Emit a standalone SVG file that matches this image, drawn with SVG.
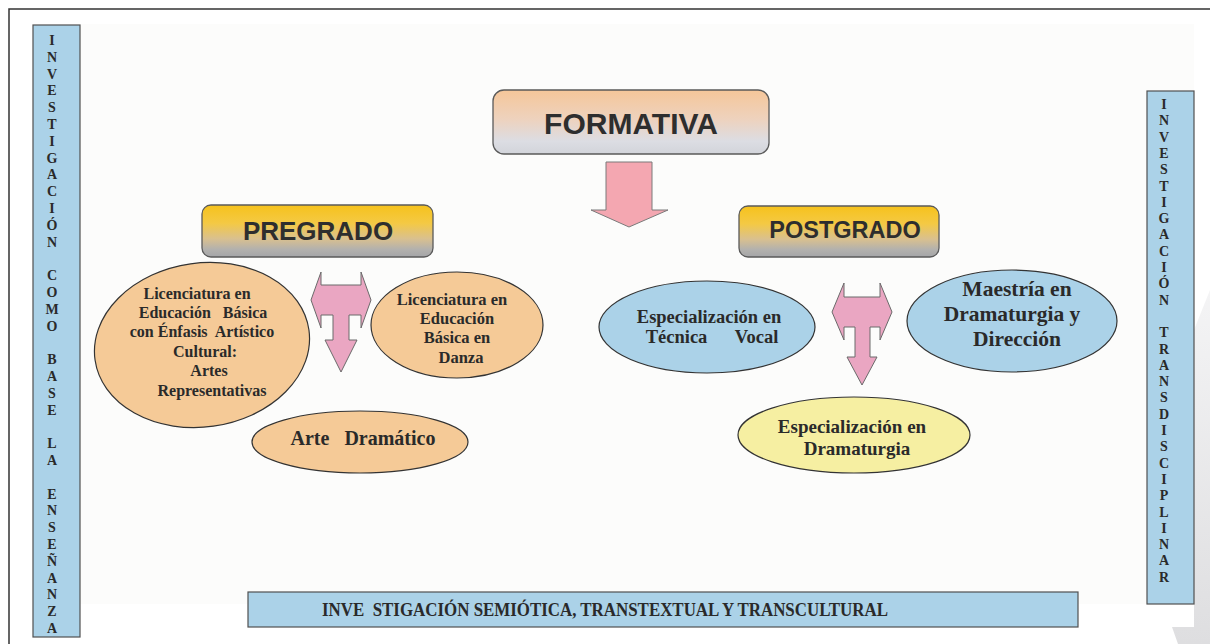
<svg xmlns="http://www.w3.org/2000/svg" width="1210" height="644" viewBox="0 0 1210 644">
  <defs>
    <linearGradient id="gForm" x1="0" y1="0" x2="0" y2="1">
      <stop offset="0" stop-color="#f5c699"/>
      <stop offset="0.45" stop-color="#eed2bd"/>
      <stop offset="0.8" stop-color="#dcdde3"/>
      <stop offset="1" stop-color="#d2d4da"/>
    </linearGradient>
    <linearGradient id="gGold" x1="0" y1="0" x2="0" y2="1">
      <stop offset="0" stop-color="#f6c21c"/>
      <stop offset="0.35" stop-color="#f4c944"/>
      <stop offset="0.65" stop-color="#d9c08f"/>
      <stop offset="0.85" stop-color="#b3b1ad"/>
      <stop offset="1" stop-color="#a4a5a8"/>
    </linearGradient>
    <linearGradient id="gPage" x1="0" y1="0" x2="0" y2="1">
      <stop offset="0" stop-color="#f4f4f5"/>
      <stop offset="1" stop-color="#dedee0"/>
    </linearGradient>
    <style>
      .frame{fill:none;stroke:#333;stroke-width:1.5}
      .bar{fill:#abd2e8;stroke:#505050;stroke-width:1.2}
      .vt{font-family:"Liberation Serif","Times New Roman",serif;font-weight:bold;font-size:14px;fill:#2a2a2a;text-anchor:middle}
      .box{stroke:#5a5a5a;stroke-width:1.3}
      .boxt{font-family:"Liberation Sans",Arial,sans-serif;font-weight:bold;fill:#2e2e2e;text-anchor:middle}
      .peach{fill:#f5ca97;stroke:#333;stroke-width:1.2}
      .blue{fill:#abd2e8;stroke:#333;stroke-width:1.2}
      .yellow{fill:#f6efa2;stroke:#333;stroke-width:1.2}
      .et{font-family:"Liberation Serif","Times New Roman",serif;font-weight:bold;fill:#2a2a2a;text-anchor:middle}
      .arrowA{fill:#f4a7b1;stroke:#7a7a7a;stroke-width:1}
      .arrowT{fill:#eaa6c2;stroke:#6a6a6a;stroke-width:1}
    </style>
  </defs>

  <rect x="0" y="0" width="1210" height="644" fill="#ffffff"/>
  <rect x="80" y="24" width="1114" height="580" fill="#fcfcfb"/>
  <polygon points="1194,330 1210,290 1210,644 1178,644 1172,627 1194,627" fill="url(#gPage)"/>
  <polyline class="frame" points="9,644 9,9 1210,9"/>

  <g id="bar-left">
    <rect class="bar" x="33" y="25" width="47" height="612"/>
    <text class="vt"><tspan x="52" y="45">I</tspan><tspan x="52" y="61.8">N</tspan><tspan x="52" y="78.6">V</tspan><tspan x="52" y="95.4">E</tspan><tspan x="52" y="112.2">S</tspan><tspan x="52" y="129">T</tspan><tspan x="52" y="145.8">I</tspan><tspan x="52" y="162.6">G</tspan><tspan x="52" y="179.4">A</tspan><tspan x="52" y="196.2">C</tspan><tspan x="52" y="213">I</tspan><tspan x="52" y="229.8">Ó</tspan><tspan x="52" y="246.6">N</tspan><tspan x="52" y="280.2">C</tspan><tspan x="52" y="297">O</tspan><tspan x="52" y="313.8">M</tspan><tspan x="52" y="330.6">O</tspan><tspan x="52" y="364.2">B</tspan><tspan x="52" y="381">A</tspan><tspan x="52" y="397.8">S</tspan><tspan x="52" y="414.6">E</tspan><tspan x="52" y="448.2">L</tspan><tspan x="52" y="465">A</tspan><tspan x="52" y="498.6">E</tspan><tspan x="52" y="515.4">N</tspan><tspan x="52" y="532.2">S</tspan><tspan x="52" y="549">E</tspan><tspan x="52" y="565.8">Ñ</tspan><tspan x="52" y="582.6">A</tspan><tspan x="52" y="599.4">N</tspan><tspan x="52" y="616.2">Z</tspan><tspan x="52" y="633">A</tspan></text>
  </g>

  <g id="bar-right">
    <rect class="bar" x="1147" y="91" width="47" height="513"/>
    <text class="vt"><tspan x="1164" y="109">I</tspan><tspan x="1164" y="125.3">N</tspan><tspan x="1164" y="141.6">V</tspan><tspan x="1164" y="157.9">E</tspan><tspan x="1164" y="174.2">S</tspan><tspan x="1164" y="190.5">T</tspan><tspan x="1164" y="206.8">I</tspan><tspan x="1164" y="223.1">G</tspan><tspan x="1164" y="239.4">A</tspan><tspan x="1164" y="255.7">C</tspan><tspan x="1164" y="272">I</tspan><tspan x="1164" y="288.3">Ó</tspan><tspan x="1164" y="304.6">N</tspan><tspan x="1164" y="337.2">T</tspan><tspan x="1164" y="353.5">R</tspan><tspan x="1164" y="369.8">A</tspan><tspan x="1164" y="386.1">N</tspan><tspan x="1164" y="402.4">S</tspan><tspan x="1164" y="418.7">D</tspan><tspan x="1164" y="435">I</tspan><tspan x="1164" y="451.3">S</tspan><tspan x="1164" y="467.6">C</tspan><tspan x="1164" y="483.9">I</tspan><tspan x="1164" y="500.2">P</tspan><tspan x="1164" y="516.5">L</tspan><tspan x="1164" y="532.8">I</tspan><tspan x="1164" y="549.1">N</tspan><tspan x="1164" y="565.4">A</tspan><tspan x="1164" y="581.7">R</tspan></text>
  </g>

  <g id="bar-bottom">
    <rect class="bar" x="248" y="592" width="830" height="35"/>
    <text class="et" x="322" y="616" font-size="19" style="text-anchor:start" textLength="566" lengthAdjust="spacingAndGlyphs">INVE&#160; STIGACIÓN SEMIÓTICA, TRANSTEXTUAL Y TRANSCULTURAL</text>
  </g>

  <g id="formativa">
    <rect class="box" x="493" y="90" width="276" height="64" rx="11" fill="url(#gForm)"/>
    <text class="boxt" x="631" y="134" font-size="30">FORMATIVA</text>
  </g>

  <g id="pregrado">
    <rect class="box" x="202" y="205" width="231" height="52" rx="9" fill="url(#gGold)"/>
    <text class="boxt" x="318" y="240" font-size="26">PREGRADO</text>
  </g>

  <g id="postgrado">
    <rect class="box" x="739" y="206" width="200" height="51" rx="9" fill="url(#gGold)"/>
    <text class="boxt" x="845" y="238" font-size="23.5">POSTGRADO</text>
  </g>

  <g id="connectors">
    <path class="arrowA" d="M606,162 L652,162 L652,210 L668,210 L629,227 L591,210 L606,210 Z"/>
    <path class="arrowT" d="M321,272 L321,285 L361,285 L361,272 L371,300 L361,328 L361,315 L349,315 L349,340 L357,340 L341,372 L325,340 L333,340 L333,315 L321,315 L321,328 L311,300 Z"/>
    <path class="arrowT" d="M844,283 L844,297 L880,297 L880,283 L892,312 L880,340 L880,327 L870,327 L870,357 L877,357 L862,385 L847,357 L855,357 L855,327 L844,327 L844,340 L832,312 Z"/>
  </g>

  <g id="lic-artes">
    <ellipse class="peach" cx="202" cy="345" rx="108" ry="82" transform="rotate(-8 202 345)"/>
    <text class="et" font-size="16"><tspan x="197" y="299">Licenciatura en</tspan><tspan x="203" y="318">Educación&#160;&#160; Básica</tspan><tspan x="202" y="337">con Énfasis&#160; Artístico</tspan><tspan x="205" y="357">Cultural:</tspan><tspan x="209" y="376">Artes</tspan><tspan x="212" y="396">Representativas</tspan></text>
  </g>

  <g id="lic-danza">
    <ellipse class="peach" cx="457" cy="325" rx="86" ry="53"/>
    <text class="et" font-size="16.5"><tspan x="452" y="305">Licenciatura en</tspan><tspan x="457" y="324">Educación</tspan><tspan x="457" y="343">Básica en</tspan><tspan x="461" y="363">Danza</tspan></text>
  </g>

  <g id="arte-dramatico">
    <ellipse class="peach" cx="360" cy="442" rx="108" ry="31"/>
    <text class="et" x="363" y="445" font-size="20">Arte&#160;&#160; Dramático</text>
  </g>

  <g id="esp-vocal">
    <ellipse class="blue" cx="707" cy="327" rx="108" ry="46"/>
    <text class="et" font-size="18.5"><tspan x="709" y="323">Especialización en</tspan><tspan x="712" y="343">Técnica&#160;&#160;&#160;&#160;&#160; Vocal</tspan></text>
  </g>

  <g id="maestria">
    <ellipse class="blue" cx="1012" cy="321" rx="105" ry="51"/>
    <text class="et" font-size="21.5"><tspan x="1017" y="296">Maestría en</tspan><tspan x="1012" y="321">Dramaturgia y</tspan><tspan x="1017" y="346">Dirección</tspan></text>
  </g>

  <g id="esp-dramaturgia">
    <ellipse class="yellow" cx="854" cy="435" rx="116" ry="38"/>
    <text class="et" font-size="19"><tspan x="852" y="433">Especialización en</tspan><tspan x="857" y="455">Dramaturgia</tspan></text>
  </g>
</svg>
